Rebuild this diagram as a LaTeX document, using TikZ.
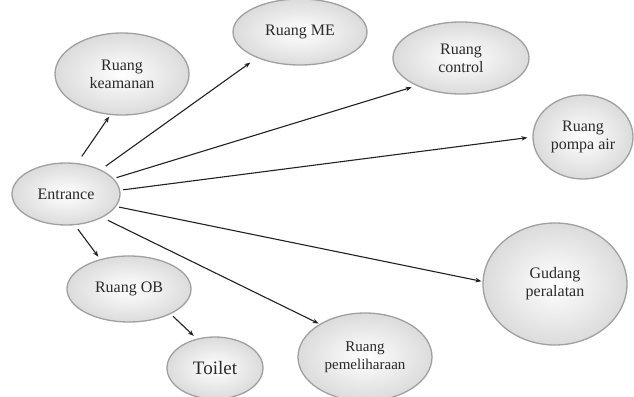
\documentclass[tikz,border=0pt]{standalone}
\usepackage{fontspec}
\setmainfont{Liberation Serif}
\usetikzlibrary{shapes.geometric,arrows.meta}
\definecolor{txt}{HTML}{2A2A2A}
\definecolor{edge}{HTML}{A0A0A0}
\definecolor{lin}{HTML}{222222}
\tikzset{
  bubble/.style={ellipse, inner sep=0pt, draw=edge, line width=1.3pt,
    shading=radial, inner color=white, outer color=black!14,
    text=txt, align=center, font=\fontsize{16}{18}\selectfont},
  link/.style={draw=lin, line width=1.1pt, -{Stealth[length=6pt,width=4.5pt]}}
}
\begin{document}
\begin{tikzpicture}[x=1pt,y=-1pt]
\path[use as bounding box, fill=white] (0,0) rectangle (634,396);
\node[bubble, minimum width=108pt, minimum height=62pt] (ent) at (66,194) {Entrance};
\node[bubble, minimum width=134pt, minimum height=82pt] (kea) at (122,74) {Ruang\\keamanan};
\node[bubble, minimum width=134pt, minimum height=66pt] (me) at (300,32) {Ruang ME};
\node[bubble, minimum width=136pt, minimum height=72pt] (ctl) at (461,58) {Ruang\\control};
\node[bubble, minimum width=100pt, minimum height=84pt] (pmp) at (583,137) {Ruang\\pompa air};
\node[bubble, minimum width=124pt, minimum height=66pt] (ob) at (129,289) {Ruang OB};
\node[bubble, minimum width=96pt, minimum height=62pt, font=\fontsize{19}{21}\selectfont] (toi) at (215,368) {Toilet};
\node[bubble, minimum width=134pt, minimum height=88pt, font=\fontsize{15}{18}\selectfont] (pem) at (365,357) {Ruang\\pemeliharaan};
\node[bubble, minimum width=144pt, minimum height=122pt] (gud) at (555,284) {Gudang\\peralatan};

\draw[link, shorten <=8pt, shorten >=2pt] (ent.70) -- (kea.-106);
\draw[link, shorten <=6pt, shorten >=8pt] (ent.35) -- (me.-149);
\draw[link, shorten <=3pt, shorten >=5pt] (ent.18) -- (ctl.-148);
\draw[link, shorten <=3pt, shorten >=5pt] (ent.4) -- (pmp.180);
\draw[link, shorten <=3pt, shorten >=1pt] (ent.-14) -- (gud.178);
\draw[link, shorten <=6pt, shorten >=1pt] (ent.-33) -- (pem.144);
\draw[link, shorten <=5pt, shorten >=3pt] (ent.-74) -- (ob.134);
\draw[link, shorten <=3pt, shorten >=4pt] (ob.-31) -- (toi.122);
\end{tikzpicture}
\end{document}
